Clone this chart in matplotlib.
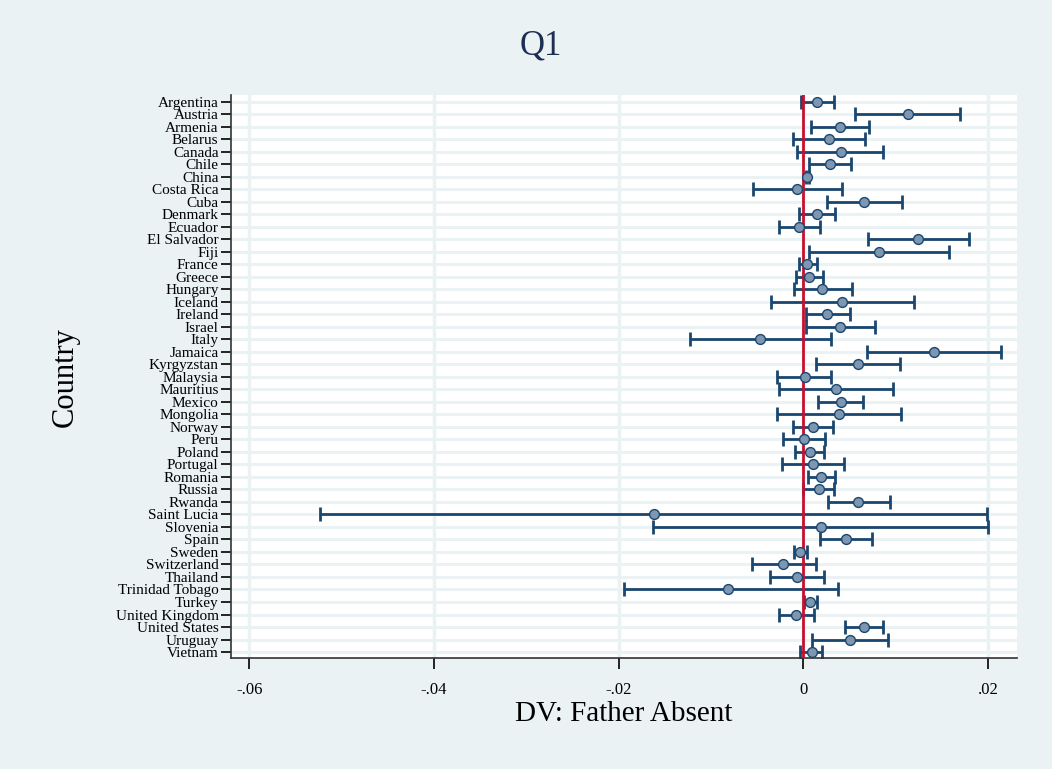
import matplotlib.pyplot as plt
import numpy as np

countries = ["Argentina", "Austria", "Armenia", "Belarus", "Canada", "Chile", "China",
             "Costa Rica", "Cuba", "Denmark", "Ecuador", "El Salvador", "Fiji", "France",
             "Greece", "Hungary", "Iceland", "Ireland", "Israel", "Italy", "Jamaica",
             "Kyrgyzstan", "Malaysia", "Mauritius", "Mexico", "Mongolia", "Norway", "Peru",
             "Poland", "Portugal", "Romania", "Russia", "Rwanda", "Saint Lucia", "Slovenia",
             "Spain", "Sweden", "Switzerland", "Thailand", "Trinidad Tobago", "Turkey",
             "United Kingdom", "United States", "Uruguay", "Vietnam"]

est = [0.00152, 0.0113, 0.00397, 0.00278, 0.00404, 0.00289, 0.00043,
       -0.00069, 0.00653, 0.00144, -0.00043, 0.01242, 0.00823, 0.00043,
       0.00065, 0.00206, 0.00419, 0.0026, 0.004, -0.00466, 0.01415,
       0.00595, 0.00014, 0.0035, 0.00408, 0.0039, 0.00101, 0.00007,
       0.00072, 0.00101, 0.00191, 0.00166, 0.00595, -0.0162, 0.00191,
       0.00466, -0.00036, -0.00217, -0.00072, -0.0081, 0.00072,
       -0.00076, 0.00653, 0.00505, 0.00094]

ci_lo = [-0.00025, 0.00563, 0.00087, -0.00115, -0.00065, 0.00058, 0.00029,
         -0.00545, 0.00253, -0.00051, -0.0026, 0.00697, 0.00065, -0.00043,
         -0.00079, -0.00105, -0.00354, 0.00025, 0.00025, -0.01227, 0.00689,
         0.00141, -0.00282, -0.0026, 0.00162, -0.00282, -0.00115, -0.0022,
         -0.00087, -0.00235, 0.00047, 0.0, 0.00263, -0.0523, -0.01624,
         0.00184, -0.00105, -0.00556, -0.00357, -0.01938, 0.00007,
         -0.0026, 0.00455, 0.00094, -0.00032]

ci_hi = [0.00332, 0.01696, 0.00707, 0.00671, 0.00863, 0.0052, 0.00058,
         0.00415, 0.01072, 0.00343, 0.00184, 0.01794, 0.01577, 0.00152,
         0.00209, 0.00531, 0.01198, 0.00505, 0.0078, 0.00303, 0.0214,
         0.01043, 0.00303, 0.00967, 0.00646, 0.01057, 0.00318, 0.00231,
         0.0022, 0.00437, 0.00346, 0.00336, 0.00942, 0.01989, 0.02003,
         0.00747, 0.0004, 0.00134, 0.0022, 0.00379, 0.00148,
         0.00119, 0.00863, 0.00913, 0.00206]

xticks = [-0.06, -0.04, -0.02, 0, 0.02]
xtick_labels = ["-.06", "-.04", "-.02", "0", ".02"]

bg = "#EAF2F3"
navy = "#1A476F"
plt.rcParams["font.family"] = ["Liberation Serif", "DejaVu Serif"]

fig = plt.figure(figsize=(10.52, 7.69), dpi=100, facecolor=bg)
ax = fig.add_axes([0.2196, 0.144, 0.7471, 0.7325])
ax.set_facecolor("white")

y = np.arange(len(countries))
est = np.array(est)
lo = np.array(ci_lo)
hi = np.array(ci_hi)

# light row / column grid like stata's s2color
for yy in y:
    ax.axhline(yy, color=bg, lw=2.2, zorder=0)
for xx in xticks:
    ax.axvline(xx, color=bg, lw=2.5, zorder=0)

ax.errorbar(est, y, xerr=[est - lo, hi - est], fmt="none", ecolor=navy,
            elinewidth=2, capsize=5, capthick=2, zorder=2)
ax.axvline(0, color="#C8102E", lw=2, zorder=3)
ax.scatter(est, y, s=50, facecolor="#7F96B0", edgecolor=navy, linewidth=1, zorder=4)

ax.set_ylim(len(countries) - 0.5, -0.55)
ax.set_xlim(-0.06197, 0.02314)
ax.set_yticks(y)
ax.set_yticklabels(countries, fontsize=11)
ax.set_xticks(xticks)
ax.set_xticklabels(xtick_labels, fontsize=12)
ax.tick_params(axis="y", length=7, width=1.2, pad=2)
ax.tick_params(axis="x", length=8, width=1.2, pad=9)

for s in ["top", "right"]:
    ax.spines[s].set_visible(False)
for s in ["left", "bottom"]:
    ax.spines[s].set_linewidth(1.2)
    ax.spines[s].set_color("#333333")

ax.set_xlabel("DV: Father Absent", fontsize=21, labelpad=2)
ax.set_ylabel("Country", fontsize=22, labelpad=26)
fig.text(0.514, 0.94, "Q1", fontsize=25, color="#1E2D53", ha="center", va="center")

fig.savefig("out.png", dpi=100, facecolor=bg)
